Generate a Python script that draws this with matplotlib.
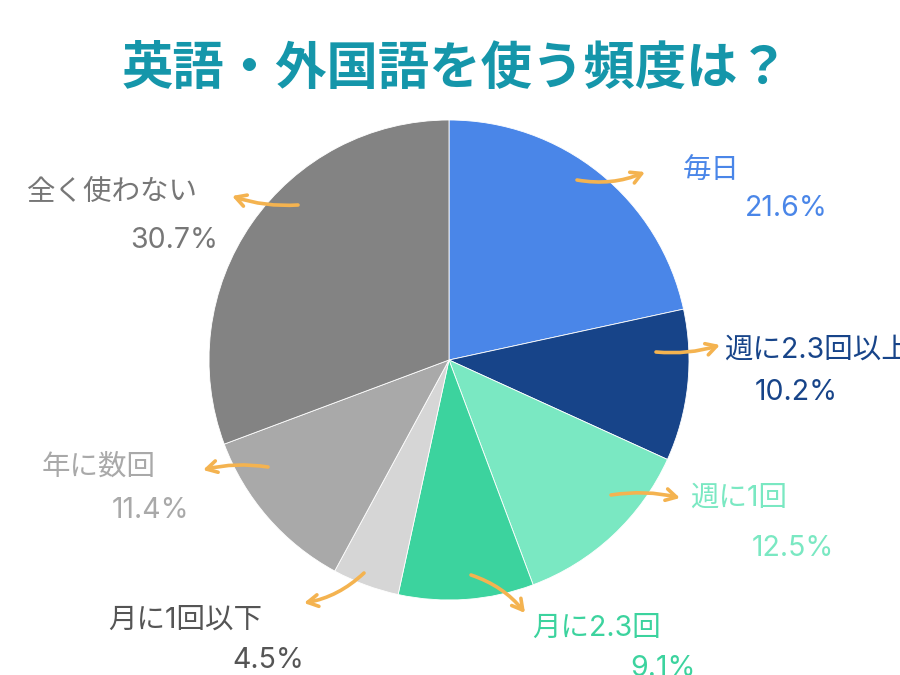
import matplotlib
matplotlib.use("Agg")
import matplotlib.pyplot as plt

plt.rcParams['font.family'] = ['Noto Sans CJK JP', 'DejaVu Sans']

# ---- data ----
categories = ["毎日", "週に2.3回以上", "週に1回", "月に2.3回", "月に1回以下", "年に数回", "全く使わない"]
values = [21.6, 10.2, 12.5, 9.1, 4.5, 11.4, 30.7]
wedge_colors = ["#4a86e8", "#174489", "#7ae8c2", "#3cd39e", "#d6d6d6", "#a9a9a9", "#838383"]
text_colors = ["#4a86e8", "#174489", "#7ae8c2", "#3cd39e", "#555555", "#a9a9a9", "#777777"]
title = "英語・外国語を使う頻度は？"

# ---- layout (pixel coordinates, y from top) ----
W, H = 900, 675
center_px = (449, 360)
radius_px = 240
label_pos = [(683, 170), (724, 350), (690, 498), (532, 628), (108, 620), (42, 467), (27, 193)]
value_pos = [(745, 208), (755, 392), (752, 548), (630, 668), (232, 660), (112, 510), (130, 241)]
arrow_tail = [(577, 180), (656, 352), (611, 495), (471, 575), (364, 573), (268, 467), (298, 205)]
arrow_head = [(645, 172), (720, 345), (680, 498), (525, 613), (304, 603), (203, 470), (232, 196)]
arrow_rad = [0.15, 0.1, -0.1, -0.15, -0.15, 0.1, -0.1]

text_family = ['Inter', 'Noto Sans CJK JP', 'DejaVu Sans']

fig = plt.figure(figsize=(W / 100, H / 100), dpi=100)
ax = fig.add_axes([0, 0, 1, 1])
ax.set_xlim(0, W)
ax.set_ylim(0, H)
ax.set_aspect('equal')
ax.axis('off')

def P(p):
    return (p[0], H - p[1])

ax.pie(values, colors=wedge_colors, startangle=90, counterclock=False,
       center=P(center_px), radius=radius_px,
       wedgeprops=dict(linewidth=0.6, edgecolor='white'))
ax.set_xlim(0, W)
ax.set_ylim(0, H)

for i, cat in enumerate(categories):
    ax.text(*P(label_pos[i]), cat, color=text_colors[i], fontsize=20.5,
            ha='left', va='center', fontweight='normal', family=text_family)
    ax.text(*P(value_pos[i]), f"{values[i]}%", color=text_colors[i], fontsize=20.5,
            ha='left', va='center', fontweight='normal', family=text_family)
    ax.annotate("", xy=P(arrow_head[i]), xytext=P(arrow_tail[i]),
                arrowprops=dict(arrowstyle='->,head_length=0.75,head_width=0.42',
                                color='#f4b350', lw=2.6,
                                connectionstyle=f"arc3,rad={arrow_rad[i]}",
                                shrinkA=0, shrinkB=0))

ax.text(W / 2 + 6, H - 68, title, color='#1596aa', fontsize=37, fontweight='bold',
        ha='center', va='center')

fig.savefig("out.png", dpi=100)
